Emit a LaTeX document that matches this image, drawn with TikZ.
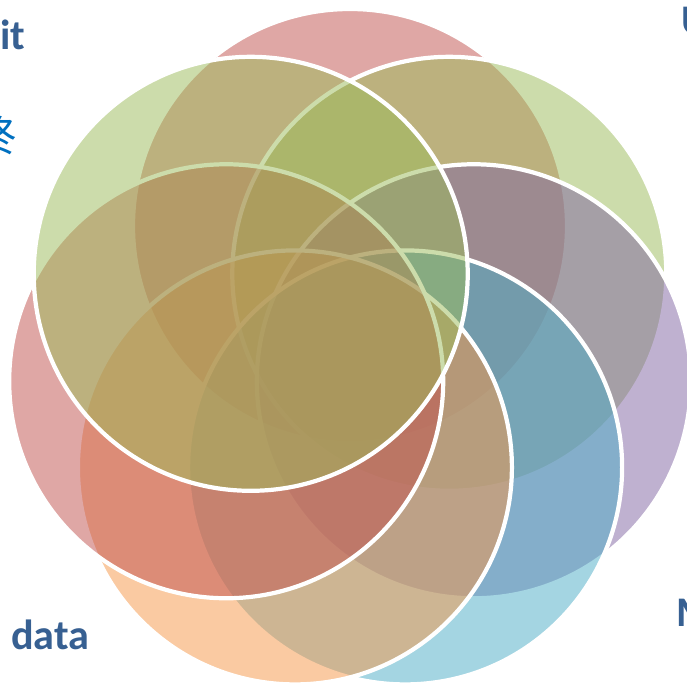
\documentclass[tikz,border=0pt]{standalone}
\usepackage{fontspec}
\setsansfont{Carlito}
\newfontfamily\cjkfont{Noto Sans CJK SC}
\definecolor{vnred}{HTML}{C0504D}
\definecolor{vngreen}{HTML}{9BBB59}
\definecolor{vnpurple}{HTML}{8064A2}
\definecolor{vnaqua}{HTML}{4BACC6}
\definecolor{vnorange}{HTML}{F79646}
\definecolor{lbdark}{HTML}{376092}
\definecolor{lbbright}{HTML}{0070C0}
\tikzset{
  petal/.style={draw=white,line width=2.4pt,fill opacity=0.5},
  word/.style={font=\sffamily\bfseries\fontsize{24}{28}\selectfont,text=lbdark,inner sep=0pt}
}

\begin{document}
\begin{tikzpicture}[x=0.2mm,y=-0.2mm]
  % Frame
  \clip (0,0) rectangle (687,687);
  \fill[white] (0,0) rectangle (687,687);
  \coordinate (hub) at (350,353);
  % Seven overlapping circles, clockwise from the top
  \foreach \col [count=\i from 0] in {vnred,vngreen,vnpurple,vnaqua,vnorange,vnred,vngreen}{
    \draw[petal,fill=\col] (hub) ++({90-\i*360/7}:2.54cm) circle[radius=4.34cm];
  }
  % Labels round the edge
  \node[word,anchor=base west] (lit) at (0,50) {it};
  \node[word,anchor=base east,text=lbbright,font=\cjkfont\fontsize{24}{28}\selectfont] (lzh) at (17,152) {终};
  \node[word,anchor=base west] (lu) at (681,35) {U};
  \node[word,anchor=base west] (lm) at (676,626) {M};
  \node[word,anchor=base west] (ldata) at (11,649) {data};
\end{tikzpicture}
\end{document}
